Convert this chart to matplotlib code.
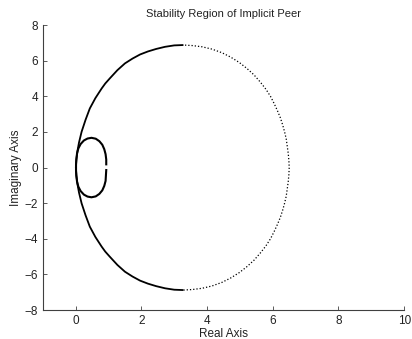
import matplotlib
matplotlib.use('Agg')
import matplotlib.pyplot as plt
import numpy as np

plt.rcParams['font.family'] = ['Liberation Sans', 'DejaVu Sans']

# upper half of the outer boundary (right -> top -> left)
outer_x = [6.50, 6.49, 6.47, 6.44, 6.41, 6.36, 6.30, 6.23, 6.14, 6.04, 5.93, 5.79,
           5.62, 5.43, 5.21, 4.98, 4.72, 4.45, 4.15, 3.85, 3.55, 3.28,
           3.00, 2.72, 2.45, 2.20, 1.96, 1.73, 1.50, 1.27, 1.04, 0.90, 0.79,
           0.60, 0.43, 0.30, 0.18, 0.10, 0.05, 0.02, 0.005]
outer_y = [0.00, 0.40, 0.80, 1.20, 1.60, 2.00, 2.40, 2.80, 3.20, 3.60, 4.00, 4.40,
           4.80, 5.20, 5.57, 5.90, 6.20, 6.45, 6.65, 6.78, 6.85, 6.88,
           6.86, 6.78, 6.66, 6.52, 6.35, 6.12, 5.85, 5.47, 5.01, 4.72, 4.44,
           3.90, 3.32, 2.68, 2.01, 1.40, 0.89, 0.45, 0.00]
top = 21  # index of the top point: dotted to the right of it, solid to the left

# inner loop, upper half from the open end round to the real axis
loop_x = [0.93, 0.93, 0.91, 0.87, 0.81, 0.72, 0.61, 0.48, 0.36, 0.25, 0.15,
          0.08, 0.04, 0.02, 0.01, 0.01]
loop_y = [0.18, 0.45, 0.75, 1.03, 1.28, 1.48, 1.62, 1.67, 1.63, 1.52, 1.32,
          1.07, 0.78, 0.45, 0.15, 0.00]
loop_end = -0.14  # lower open end

ox = np.array(outer_x)
oy = np.array(outer_y)
lx = np.array(loop_x)
ly = np.array(loop_y)

fig = plt.figure(figsize=(4.12, 3.39), dpi=100)
ax = fig.add_axes([0.104, 0.0855, 0.877, 0.8405])

# left part of the outer curve (dense points -> solid), both halves
left_x = np.concatenate([ox[top:], ox[top:-1][::-1]])
left_y = np.concatenate([oy[top:], -oy[top:-1][::-1]])
ax.plot(left_x, left_y, color='black', lw=1.3, solid_capstyle='butt')

# right part (sparse points -> dotted)
right_x = np.concatenate([ox[:top + 1][::-1], ox[1:top + 1]])
right_y = np.concatenate([oy[:top + 1][::-1], -oy[1:top + 1]])
right_x = np.concatenate([ox[1:top + 1][::-1], ox[:top + 1]])
right_y = np.concatenate([-oy[1:top + 1][::-1], oy[:top + 1]])
ax.plot(right_x, right_y, color='black', lw=0.9, ls=(0, (1, 1.6)))

# inner loop
inner_x = np.concatenate([lx, lx[1:-1][::-1]])
inner_y = np.concatenate([ly, -ly[1:-1][::-1]])
inner_y[-1] = loop_end
ax.plot(inner_x, inner_y, color='black', lw=1.5)

ax.set_xlim(-1, 10)
ax.set_ylim(-8, 8)
ax.set_xticks(range(0, 11, 2))
ax.set_yticks(range(-8, 9, 2))
ax.spines['top'].set_visible(False)
ax.spines['right'].set_visible(False)
for s in ('left', 'bottom'):
    ax.spines[s].set_color('#404040')
    ax.spines[s].set_linewidth(0.8)
ax.tick_params(direction='in', length=3, width=0.6, colors='#404040',
               labelcolor='#222222', labelsize=8.5)

ax.set_title('Stability Region of Implicit Peer', fontsize=8, color='#222222', pad=6)
ax.set_xlabel('Real Axis', fontsize=8.5, color='#222222', labelpad=1)
ax.set_ylabel('Imaginary Axis', fontsize=8.5, color='#222222', labelpad=2)

fig.savefig('out.png', dpi=100)
